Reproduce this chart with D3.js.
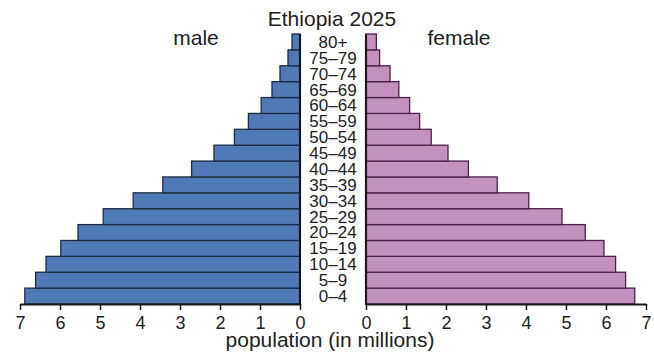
<!DOCTYPE html>
<html>
<head>
<meta charset="utf-8">
<script src="https://cdn.jsdelivr.net/npm/d3@7"></script>
<style>
  html, body { margin: 0; padding: 0; background: #fff; }
  svg { display: block; font-family: "Liberation Sans", Arial, Helvetica, sans-serif; }
</style>
</head>
<body>
<svg id="chart" width="654" height="359"></svg>
<script>
const ageGroups = ["0–4","5–9","10–14","15–19","20–24","25–29","30–34","35–39","40–44","45–49","50–54","55–59","60–64","65–69","70–74","75–79","80+"];
const maleValues = [6.88, 6.61, 6.35, 5.98, 5.55, 4.92, 4.17, 3.43, 2.71, 2.15, 1.64, 1.29, 0.97, 0.70, 0.50, 0.30, 0.20];
const femaleValues = [6.72, 6.49, 6.24, 5.95, 5.48, 4.90, 4.07, 3.28, 2.56, 2.05, 1.63, 1.34, 1.09, 0.82, 0.60, 0.34, 0.26];
const tickValues = [0, 1, 2, 3, 4, 5, 6, 7];
const titleText = "Ethiopia 2025";
const axisTitle = "population (in millions)";

const svg = d3.select("#chart");

const xMale = d3.scaleLinear().domain([0, 7]).range([300, 20]);
const xFemale = d3.scaleLinear().domain([0, 7]).range([366, 646]);
const y = d3.scaleBand().domain(ageGroups.slice().reverse()).range([34, 304]).padding(0);

const maleFill = "#5079b7", maleStroke = "#1d2c44";
const femaleFill = "#c391bd", femaleStroke = "#4a2148";

// bars
svg.append("g").selectAll("rect")
  .data(ageGroups.map((a, i) => ({ a, v: maleValues[i] })))
  .join("rect")
  .attr("x", d => xMale(d.v))
  .attr("y", d => y(d.a))
  .attr("width", d => xMale(0) - xMale(d.v))
  .attr("height", y.bandwidth())
  .attr("fill", maleFill)
  .attr("stroke", maleStroke)
  .attr("stroke-width", 1.3);

svg.append("g").selectAll("rect")
  .data(ageGroups.map((a, i) => ({ a, v: femaleValues[i] })))
  .join("rect")
  .attr("x", xFemale(0))
  .attr("y", d => y(d.a))
  .attr("width", d => xFemale(d.v) - xFemale(0))
  .attr("height", y.bandwidth())
  .attr("fill", femaleFill)
  .attr("stroke", femaleStroke)
  .attr("stroke-width", 1.3);

// x axes
function styleAxis(g) {
  g.select(".domain").attr("stroke", "#1a1a1a").attr("stroke-width", 2.2);
  g.selectAll(".tick line").attr("stroke", "#1a1a1a").attr("stroke-width", 1.5);
  g.selectAll(".tick text").attr("fill", "#222").attr("font-size", 18)
    .attr("font-family", "'Liberation Sans', Arial, sans-serif").attr("dy", "0.9em");
}
svg.append("g").attr("transform", "translate(0,304)")
  .call(d3.axisBottom(xMale).tickValues(tickValues).tickFormat(d3.format("d")).tickSize(6).tickSizeOuter(0))
  .call(styleAxis);
svg.append("g").attr("transform", "translate(0,304)")
  .call(d3.axisBottom(xFemale).tickValues(tickValues).tickFormat(d3.format("d")).tickSize(6).tickSizeOuter(0))
  .call(styleAxis);

// vertical axis lines
const yTop = y.range()[0], yBot = y.range()[1];
svg.append("line").attr("x1", xMale(0)).attr("x2", xMale(0)).attr("y1", yTop).attr("y2", yBot + 1)
  .attr("stroke", "#1a1a1a").attr("stroke-width", 2.2);
svg.append("line").attr("x1", xFemale(0)).attr("x2", xFemale(0)).attr("y1", yTop).attr("y2", yBot + 1)
  .attr("stroke", "#1a1a1a").attr("stroke-width", 2.2);

// age labels
svg.append("g").selectAll("text")
  .data(ageGroups)
  .join("text")
  .attr("x", (xMale(0) + xFemale(0)) / 2)
  .attr("y", d => y(d) + y.bandwidth() / 2)
  .attr("dy", "0.35em")
  .attr("text-anchor", "middle")
  .attr("font-size", 17)
  .attr("fill", "#222")
  .text(d => d);

// titles
svg.append("text").attr("x", 332).attr("y", 26).attr("text-anchor", "middle")
  .attr("font-size", 21).attr("fill", "#222").text(titleText);
svg.append("text").attr("x", 196).attr("y", 45).attr("text-anchor", "middle")
  .attr("font-size", 21).attr("fill", "#222").text("male");
svg.append("text").attr("x", 459).attr("y", 45).attr("text-anchor", "middle")
  .attr("font-size", 21).attr("fill", "#222").text("female");
svg.append("text").attr("x", 330).attr("y", 347).attr("text-anchor", "middle")
  .attr("font-size", 21).attr("fill", "#222").text(axisTitle);
</script>
</body>
</html>
